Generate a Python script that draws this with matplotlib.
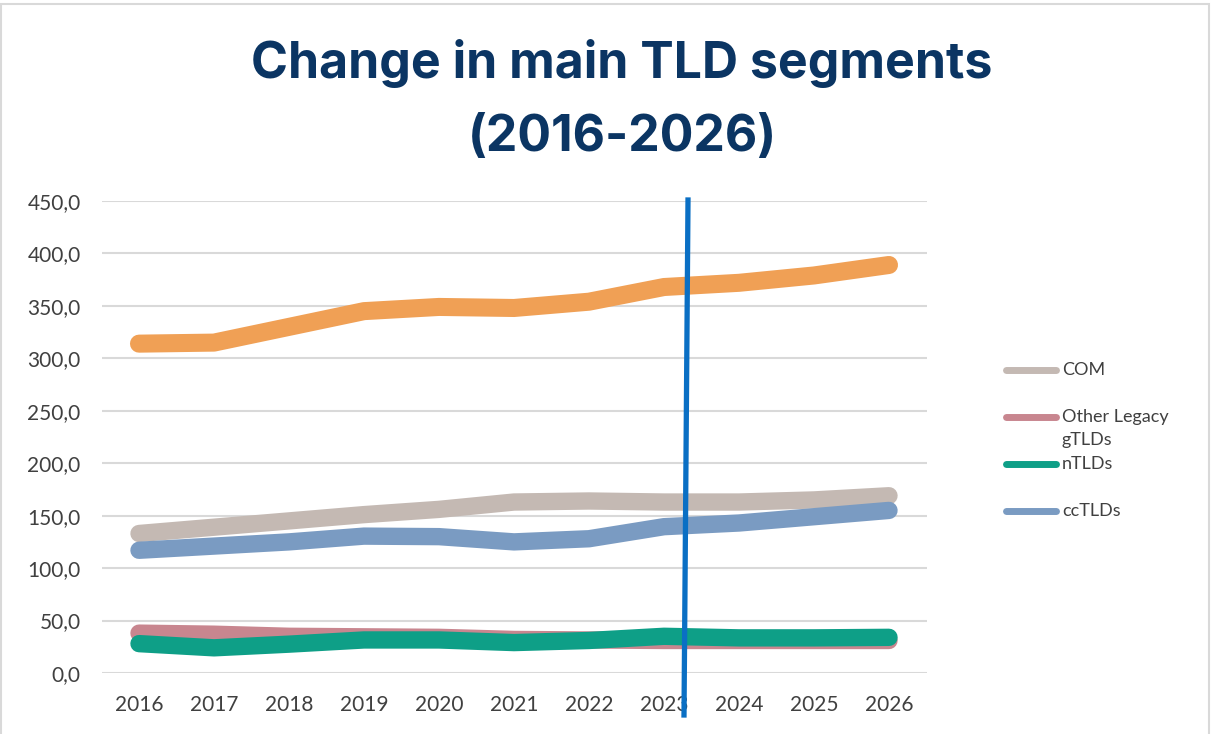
import numpy as np
import matplotlib.pyplot as plt
from matplotlib.lines import Line2D
from matplotlib.patches import Rectangle
from matplotlib.ticker import FuncFormatter

years = ['2016', '2017', '2018', '2019', '2020', '2021', '2022', '2023', '2024', '2025', '2026']
total = [314, 315, 330, 345, 349, 348, 354, 368, 372, 379, 389]
com = [133, 139, 145, 151, 156, 163, 164, 163, 163, 165, 169]
other_legacy = [38, 37, 35, 34.5, 34, 32, 31.5, 31, 31, 31, 31]
ntlds = [28, 24, 27.5, 31.5, 31.5, 29, 31, 35, 33.5, 33.5, 34]
cctlds = [117, 121, 125, 130.5, 130, 125, 128, 139.5, 143, 149, 155]

W, H = 1212, 734
fig = plt.figure(figsize=(W / 100, H / 100), dpi=100)

def fx(px):
    return px / W

def fy(py):
    return 1 - py / H

# outer frame
fig.add_artist(Rectangle((fx(1), fy(740)), fx(1208), (740 - 4) / H, transform=fig.transFigure,
                         fill=False, edgecolor='#D9D9D9', lw=1.5))

ax = fig.add_axes([fx(101.5), fy(673), fx(825), 472 / H])
x = np.arange(len(years))

lw = 12.5
ax.plot(x, total, color='#F0A055', lw=13, solid_capstyle='round', solid_joinstyle='round', zorder=3)
ax.plot(x, com, color='#C4B9B3', lw=lw, solid_capstyle='round', solid_joinstyle='round', zorder=3)
ax.plot(x, other_legacy, color='#C8868F', lw=lw, solid_capstyle='round', solid_joinstyle='round', zorder=3)
ax.plot(x, ntlds, color='#0E9F87', lw=lw, solid_capstyle='round', solid_joinstyle='round', zorder=4)
ax.plot(x, cctlds, color='#7A9BC2', lw=lw, solid_capstyle='round', solid_joinstyle='round', zorder=4)

ax.set_xlim(-0.5, len(years) - 0.5)
ax.set_ylim(0, 450)
ax.set_yticks(np.arange(0, 451, 50))
ax.yaxis.set_major_formatter(FuncFormatter(lambda v, p: f'{v:.1f}'.replace('.', ',')))
ax.set_xticks(x)
ax.set_xticklabels(years)
ax.grid(axis='y', color='#D9D9D9', lw=1.5, zorder=0)
ax.set_axisbelow(True)
for s in ax.spines.values():
    s.set_visible(False)
ax.tick_params(length=0, labelsize=15, labelcolor='#404040')
ax.tick_params(axis='x', pad=16)
ax.tick_params(axis='y', pad=15)
for lab in ax.get_xticklabels() + ax.get_yticklabels():
    lab.set_fontfamily('Lato')

# title
fig.text(fx(622), fy(64), 'Change in main TLD segments', ha='center', va='center',
         fontsize=36, fontweight='bold', color='#0B3563', family='Inter')
fig.text(fx(622), fy(138), '(2016-2026)', ha='center', va='center',
         fontsize=36, fontweight='bold', color='#0B3563', family='Inter')

# legend (manual, to keep wrapped label aligned like the original)
leg_labels = ['COM', 'Other Legacy\ngTLDs', 'nTLDs', 'ccTLDs']
leg_colors = ['#C4B9B3', '#C8868F', '#0E9F87', '#7A9BC2']
for i, (lab, col) in enumerate(zip(leg_labels, leg_colors)):
    yy = 370 + 47 * i
    fig.add_artist(Line2D([fx(1006), fx(1056)], [fy(yy), fy(yy)], transform=fig.transFigure,
                          color=col, lw=5, solid_capstyle='round'))
    for j, part in enumerate(lab.split('\n')):
        fig.text(fx(1062), fy(yy + 23 * j), part, ha='left', va='center',
                 fontsize=13, color='#404040', family='Lato')

# forecast divider
fig.add_artist(Line2D([fx(688), fx(684)], [fy(200), fy(715)], transform=fig.transFigure,
                      color='#0A6FC4', lw=3.8, zorder=10))

fig.savefig('out.png', dpi=100)
